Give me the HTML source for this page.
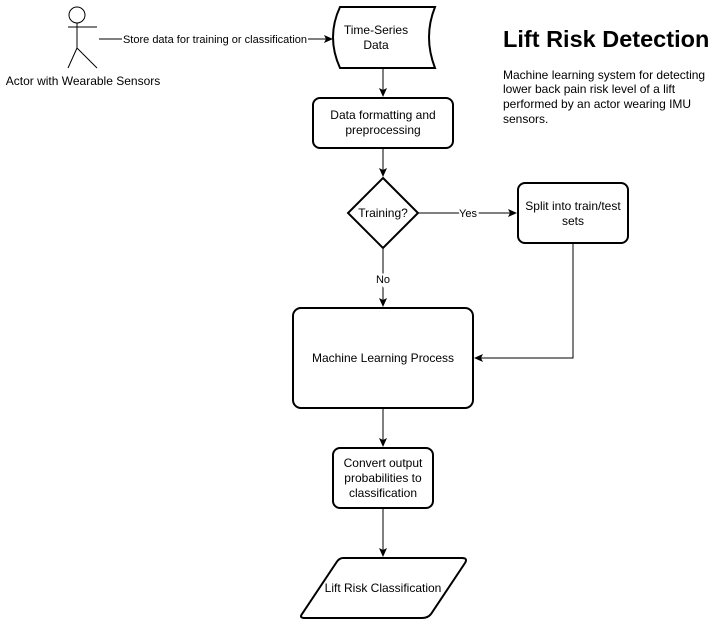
<!DOCTYPE html>
<html><head><style>
body{margin:0;background:#fff;}
svg text{font-family:"Liberation Sans",sans-serif;fill:#000;}
</style></head><body>
<svg width="722" height="622" viewBox="0 0 722 622" xmlns="http://www.w3.org/2000/svg">
<defs><marker id="a" markerWidth="10" markerHeight="10" refX="8" refY="5" orient="auto" markerUnits="userSpaceOnUse"><path d="M0,1 L9,5 L0,9 L2,5 Z" fill="#000"/></marker></defs>
<g stroke="#000" fill="none" stroke-width="1">
<circle cx="77" cy="15" r="8"/>
<line x1="77" y1="23" x2="77" y2="48"/>
<line x1="68" y1="27" x2="97" y2="27"/>
<line x1="77" y1="48" x2="68" y2="68"/>
<line x1="77" y1="48" x2="97" y2="68"/>
<line x1="99" y1="39" x2="332" y2="39" marker-end="url(#a)"/>
<line x1="383" y1="68" x2="383" y2="96" marker-end="url(#a)"/>
<line x1="383" y1="148" x2="383" y2="176" marker-end="url(#a)"/>
<line x1="418" y1="213" x2="516" y2="213" marker-end="url(#a)"/>
<line x1="383" y1="248" x2="383" y2="306" marker-end="url(#a)"/>
<polyline points="573,243 573,358 475,358" marker-end="url(#a)"/>
<line x1="383" y1="408" x2="383" y2="446" marker-end="url(#a)"/>
<line x1="383" y1="508" x2="383" y2="556" marker-end="url(#a)"/>
</g>
<g stroke="#000" fill="#fff" stroke-width="2">
<path d="M340,7 L435,7 Q423,37 435,68 L340,68 Q326,37 340,7 Z"/>
<rect x="313" y="98" width="140" height="50" rx="7"/>
<path d="M383,178 L418,213 L383,248 L348,213 Z"/>
<rect x="518" y="183" width="110" height="60" rx="7"/>
<rect x="293" y="308" width="180" height="100" rx="8"/>
<rect x="333" y="448" width="100" height="60" rx="7"/>
<path d="M343,558 L462,558 Q468,558 465,563 L431,614 Q428,618 422,618 L305,618 Q299,618 302,614 L336,563 Q339,558 343,558 Z"/>
</g>
<rect x="122" y="32" width="186" height="14" fill="#fff"/>
<g font-size="11" text-anchor="middle">
<text x="215" y="43">Store data for training or classification</text>
<text x="468" y="217" style="paint-order:stroke" stroke="#fff" stroke-width="4">Yes</text>
<text x="383" y="283" style="paint-order:stroke" stroke="#fff" stroke-width="4">No</text>
</g>
<g font-size="12" text-anchor="middle">
<text x="83" y="85">Actor with Wearable Sensors</text>
<text x="376" y="34">Time-Series</text>
<text x="376" y="49">Data</text>
<text x="383" y="119">Data formatting and</text>
<text x="383" y="134">preprocessing</text>
<text x="383" y="217">Training?</text>
<text x="573" y="210">Split into train/test</text>
<text x="573" y="225">sets</text>
<text x="383" y="362">Machine Learning Process</text>
<text x="383" y="467">Convert output</text>
<text x="383" y="482">probabilities to</text>
<text x="383" y="497">classification</text>
<text x="383" y="592">Lift Risk Classification</text>
</g>
<text x="503" y="47" font-size="23.5" font-weight="bold">Lift Risk Detection</text>
<g font-size="12">
<text x="503" y="79">Machine learning system for detecting</text>
<text x="503" y="93">lower back pain risk level of a lift</text>
<text x="503" y="108">performed by an actor wearing IMU</text>
<text x="503" y="123">sensors.</text>
</g>
</svg>
</body></html>
